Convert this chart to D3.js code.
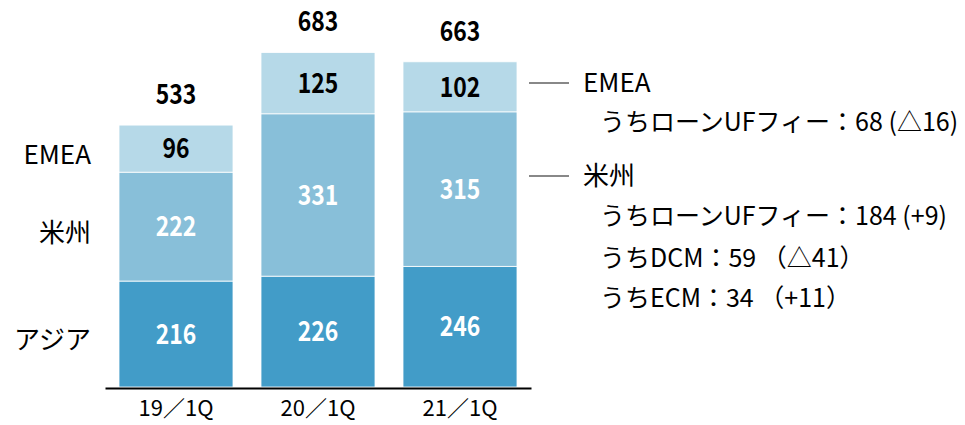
<!DOCTYPE html>
<html>
<head>
<meta charset="utf-8">
<script src="https://cdn.jsdelivr.net/npm/d3@7"></script>
<style>
  body { margin: 0; background: #fff; }
  text { font-family: "Noto Sans CJK JP", "Noto Sans", sans-serif; }
</style>
</head>
<body>
<script>
// Chart dimension
const width = 965;
const height = 425;

// Data
const quarters = ["19/1Q", "20/1Q", "21/1Q"];
const quarterLabels = ["19／1Q", "20／1Q", "21／1Q"];
const regions = ["アジア", "米州", "EMEA"];
const asia = [216, 226, 246];
const americas = [222, 331, 315];
const emea = [96, 125, 102];
const totals = [533, 683, 663];
const notes = [
    { text: "EMEA", line: true },
    { text: "うちローンUFフィー：68 (△16)", line: false },
    { text: "米州", line: true },
    { text: "うちローンUFフィー：184 (+9)", line: false },
    { text: "うちDCM：59 （△41）", line: false },
    { text: "うちECM：34 （+11）", line: false }
];

const colors = ["#429cc8", "#88bfd9", "#b6d9e8"];
const labelColors = ["#fff", "#fff", "#000"];

const rows = quarters.map((q, i) => ({ q: q, "アジア": asia[i], "米州": americas[i], "EMEA": emea[i] }));
const series = d3.stack().keys(regions)(rows);

const svg = d3.select("body")
    .append("svg")
    .attr("width", width)
    .attr("height", height);

// Scales
const x = d3.scaleBand()
    .domain(quarters)
    .range([105, 531])
    .paddingInner(28 / 142)
    .paddingOuter(14 / 142);

const y = d3.scaleLinear()
    .domain([0, 683])
    .range([387, 52]);

// Stacked bars
const layer = svg.selectAll(".layer")
    .data(series)
    .enter()
    .append("g")
    .attr("fill", (d, i) => colors[i]);

layer.selectAll("rect")
    .data(d => d)
    .enter()
    .append("rect")
    .attr("x", d => x(d.data.q))
    .attr("y", d => y(d[1]))
    .attr("width", x.bandwidth())
    .attr("height", d => y(d[0]) - y(d[1]))
    .attr("stroke", "#fff")
    .attr("stroke-width", 0.8);

// narrow bold numbers, like the original's condensed font
function numLabel(sel) {
    sel.attr("text-anchor", "middle")
        .attr("dy", "0.36em")
        .style("font-size", "27px")
        .style("font-weight", "bold");
}

// Segment value labels
series.forEach((s, si) => {
    svg.selectAll(".seg" + si)
        .data(s)
        .enter()
        .append("text")
        .attr("transform", d => `translate(${x(d.data.q) + x.bandwidth() / 2}, ${(y(d[0]) + y(d[1])) / 2}) scale(0.85, 1)`)
        .attr("fill", labelColors[si])
        .call(numLabel)
        .text(d => d[1] - d[0]);
});

// Totals
svg.selectAll(".total")
    .data(quarters)
    .enter()
    .append("text")
    .attr("transform", (d, i) => `translate(${x(d) + x.bandwidth() / 2}, ${y(totals[i]) - 31}) scale(0.85, 1)`)
    .call(numLabel)
    .text((d, i) => totals[i]);

// X axis
const xAxis = svg.append("g")
    .attr("transform", "translate(0, 388)")
    .call(d3.axisBottom(x).tickSize(0).tickPadding(12).tickFormat((d, i) => quarterLabels[i]));

xAxis.select(".domain").attr("stroke", "#000").attr("stroke-width", 2);
xAxis.selectAll("text")
    .style("font-size", "22px")
    .style("font-family", "\"Noto Sans CJK JP\", sans-serif")
    .attr("fill", "#000");

// Left region labels
svg.selectAll(".region")
    .data(series)
    .enter()
    .append("text")
    .attr("x", 91)
    .attr("y", d => (y(d[0][0]) + y(d[0][1])) / 2 + 6)
    .attr("dy", "0.36em")
    .attr("text-anchor", "end")
    .style("font-size", "26px")
    .text(d => d.key);

// Right annotations
const noteY = [83, 122, 176, 216, 258, 298];
const note = svg.selectAll(".note")
    .data(notes)
    .enter()
    .append("g")
    .attr("transform", (d, i) => `translate(0, ${noteY[i]})`);

note.filter(d => d.line)
    .append("line")
    .attr("x1", 529)
    .attr("x2", 569)
    .attr("stroke", "#888")
    .attr("stroke-width", 2);

note.append("text")
    .attr("x", d => d.line ? 583 : 600)
    .attr("dy", "0.36em")
    .style("font-size", d => d.line ? "26px" : "25px")
    .text(d => d.text);
</script>
</body>
</html>
